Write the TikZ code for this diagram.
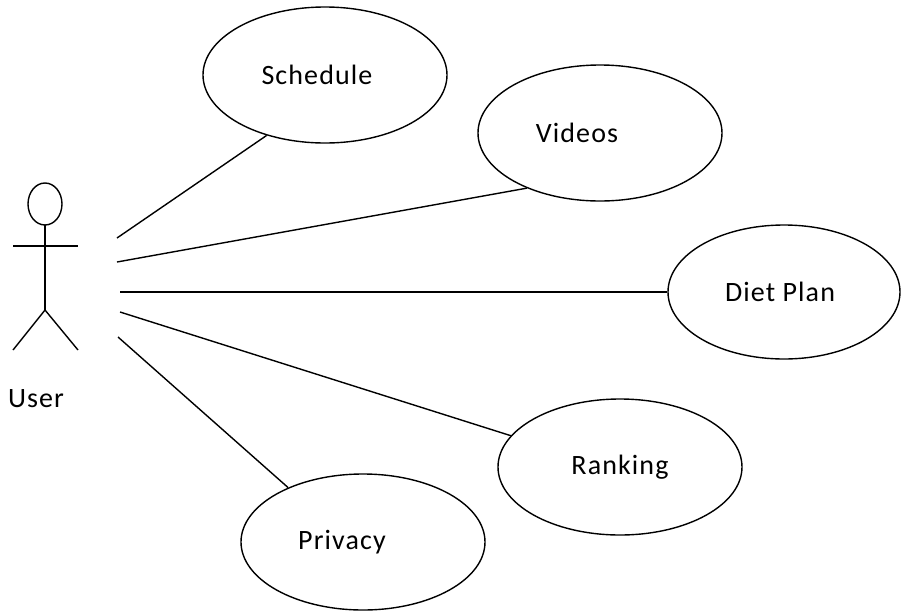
\documentclass[tikz,border=0pt]{standalone}
\usepackage{fontspec}
\setmainfont{Carlito}[LetterSpace=4.0]
\usetikzlibrary{shapes.geometric}

\begin{document}
\begin{tikzpicture}[x=1pt, y=-1pt, line width=1.4pt,
    font=\fontsize{28}{32}\selectfont,
    usecase/.style={draw, ellipse, minimum width=244pt, minimum height=136pt}]
    \useasboundingbox (0,0) rectangle (903,614);
    \draw (45,204) ellipse (17 and 21);
    \draw (45,225) -- (45,310);
    \draw (13,246) -- (78,246);
    \draw (13,350) -- (45,310) -- (78,350);
    \node (user) at (36,399) {User};
    \node[usecase, label={[xshift=-8pt]center:Schedule}] (sched) at (325,75) {};
    \node[usecase, label={[xshift=-23pt]center:Videos}] (vid) at (600,133) {};
    \node[usecase, minimum width=232pt, minimum height=134pt,
      label={[xshift=-4pt]center:Diet Plan}] (diet) at (784,292) {};
    \node[usecase, label={center:Ranking}] (rank) at (620,467) {};
    \node[usecase, label={[xshift=-21pt]center:Privacy}] (priv) at (363,542) {};
    \coordinate (u1) at (117,238);
    \coordinate (u2) at (117,262);
    \coordinate (u3) at (120,292);
    \coordinate (u4) at (120,312);
    \coordinate (u5) at (118,337);
    \draw (u1) -- (sched.226);
    \draw (u2) -- (vid.217);
    \draw (u3) -- (diet.west);
    \draw (u4) -- (rank.164);
    \draw (u5) -- (priv.144);
\end{tikzpicture}
\end{document}
